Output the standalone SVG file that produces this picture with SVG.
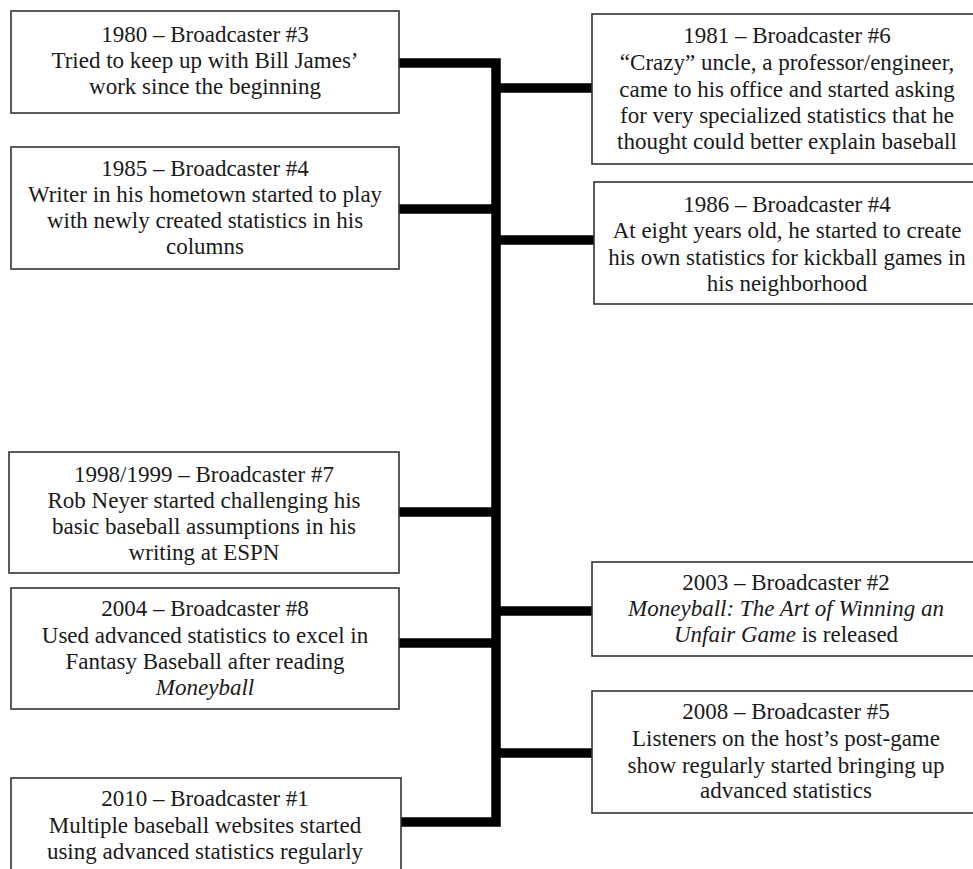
<svg xmlns="http://www.w3.org/2000/svg" width="973" height="869" viewBox="0 0 973 869">
<style>
.box{fill:#fff;stroke:#333;stroke-width:1.6}
.t{font-family:"Liberation Serif","Times New Roman",serif;font-size:23px;fill:#1a1a1a;text-anchor:middle}
.i{font-style:italic}
.c{fill:none;stroke:#000;stroke-width:9.5;stroke-linejoin:miter;stroke-linecap:butt}
</style>
<rect width="973" height="869" fill="#fff"/>
<g id="connectors">
<path class="c" d="M399,63 H496 V822 H401"/>
<path class="c" d="M399,209 H496"/>
<path class="c" d="M399,512 H496"/>
<path class="c" d="M399,643 H496"/>
<path class="c" d="M496,88 H592"/>
<path class="c" d="M496,240 H594"/>
<path class="c" d="M496,611 H592"/>
<path class="c" d="M496,753 H592"/>
</g>
<g id="n1980">
<rect class="box" x="11" y="11" width="388" height="102"/>
<text class="t"><tspan x="205" y="42">1980 – Broadcaster #3</tspan><tspan x="205" y="68">Tried to keep up with Bill James’</tspan><tspan x="205" y="94">work since the beginning</tspan></text>
</g>
<g id="n1985">
<rect class="box" x="11" y="147" width="388" height="122"/>
<text class="t"><tspan x="205" y="176">1985 – Broadcaster #4</tspan><tspan x="205" y="202">Writer in his hometown started to play</tspan><tspan x="205" y="228">with newly created statistics in his</tspan><tspan x="205" y="254">columns</tspan></text>
</g>
<g id="n1998">
<rect class="box" x="9" y="452" width="390" height="121"/>
<text class="t"><tspan x="204" y="482">1998/1999 – Broadcaster #7</tspan><tspan x="204" y="508">Rob Neyer started challenging his</tspan><tspan x="204" y="534">basic baseball assumptions in his</tspan><tspan x="204" y="560">writing at ESPN</tspan></text>
</g>
<g id="n2004">
<rect class="box" x="11" y="588" width="388" height="121"/>
<text class="t"><tspan x="205" y="616">2004 – Broadcaster #8</tspan><tspan x="205" y="643">Used advanced statistics to excel in</tspan><tspan x="205" y="669">Fantasy Baseball after reading</tspan><tspan x="205" y="695" class="i">Moneyball</tspan></text>
</g>
<g id="n2010">
<rect class="box" x="11" y="778" width="390" height="110"/>
<text class="t"><tspan x="205" y="806">2010 – Broadcaster #1</tspan><tspan x="205" y="833">Multiple baseball websites started</tspan><tspan x="205" y="859">using advanced statistics regularly</tspan></text>
</g>
<g id="n1981">
<rect class="box" x="592" y="14" width="395" height="150"/>
<text class="t"><tspan x="787" y="43">1981 – Broadcaster #6</tspan><tspan x="787" y="70">“Crazy” uncle, a professor/engineer,</tspan><tspan x="787" y="97">came to his office and started asking</tspan><tspan x="787" y="123">for very specialized statistics that he</tspan><tspan x="787" y="149">thought could better explain baseball</tspan></text>
</g>
<g id="n1986">
<rect class="box" x="594" y="182" width="395" height="122"/>
<text class="t"><tspan x="787" y="212">1986 – Broadcaster #4</tspan><tspan x="787" y="238">At eight years old, he started to create</tspan><tspan x="787" y="265">his own statistics for kickball games in</tspan><tspan x="787" y="291">his neighborhood</tspan></text>
</g>
<g id="n2003">
<rect class="box" x="592" y="562" width="395" height="94"/>
<text class="t"><tspan x="786" y="590">2003 – Broadcaster #2</tspan><tspan x="786" y="616" class="i">Moneyball: The Art of Winning an</tspan><tspan x="786" y="642"><tspan class="i">Unfair Game</tspan> is released</tspan></text>
</g>
<g id="n2008">
<rect class="box" x="592" y="691" width="395" height="122"/>
<text class="t"><tspan x="786" y="719">2008 – Broadcaster #5</tspan><tspan x="786" y="746">Listeners on the host’s post-game</tspan><tspan x="786" y="773">show regularly started bringing up</tspan><tspan x="786" y="798">advanced statistics</tspan></text>
</g>
</svg>
